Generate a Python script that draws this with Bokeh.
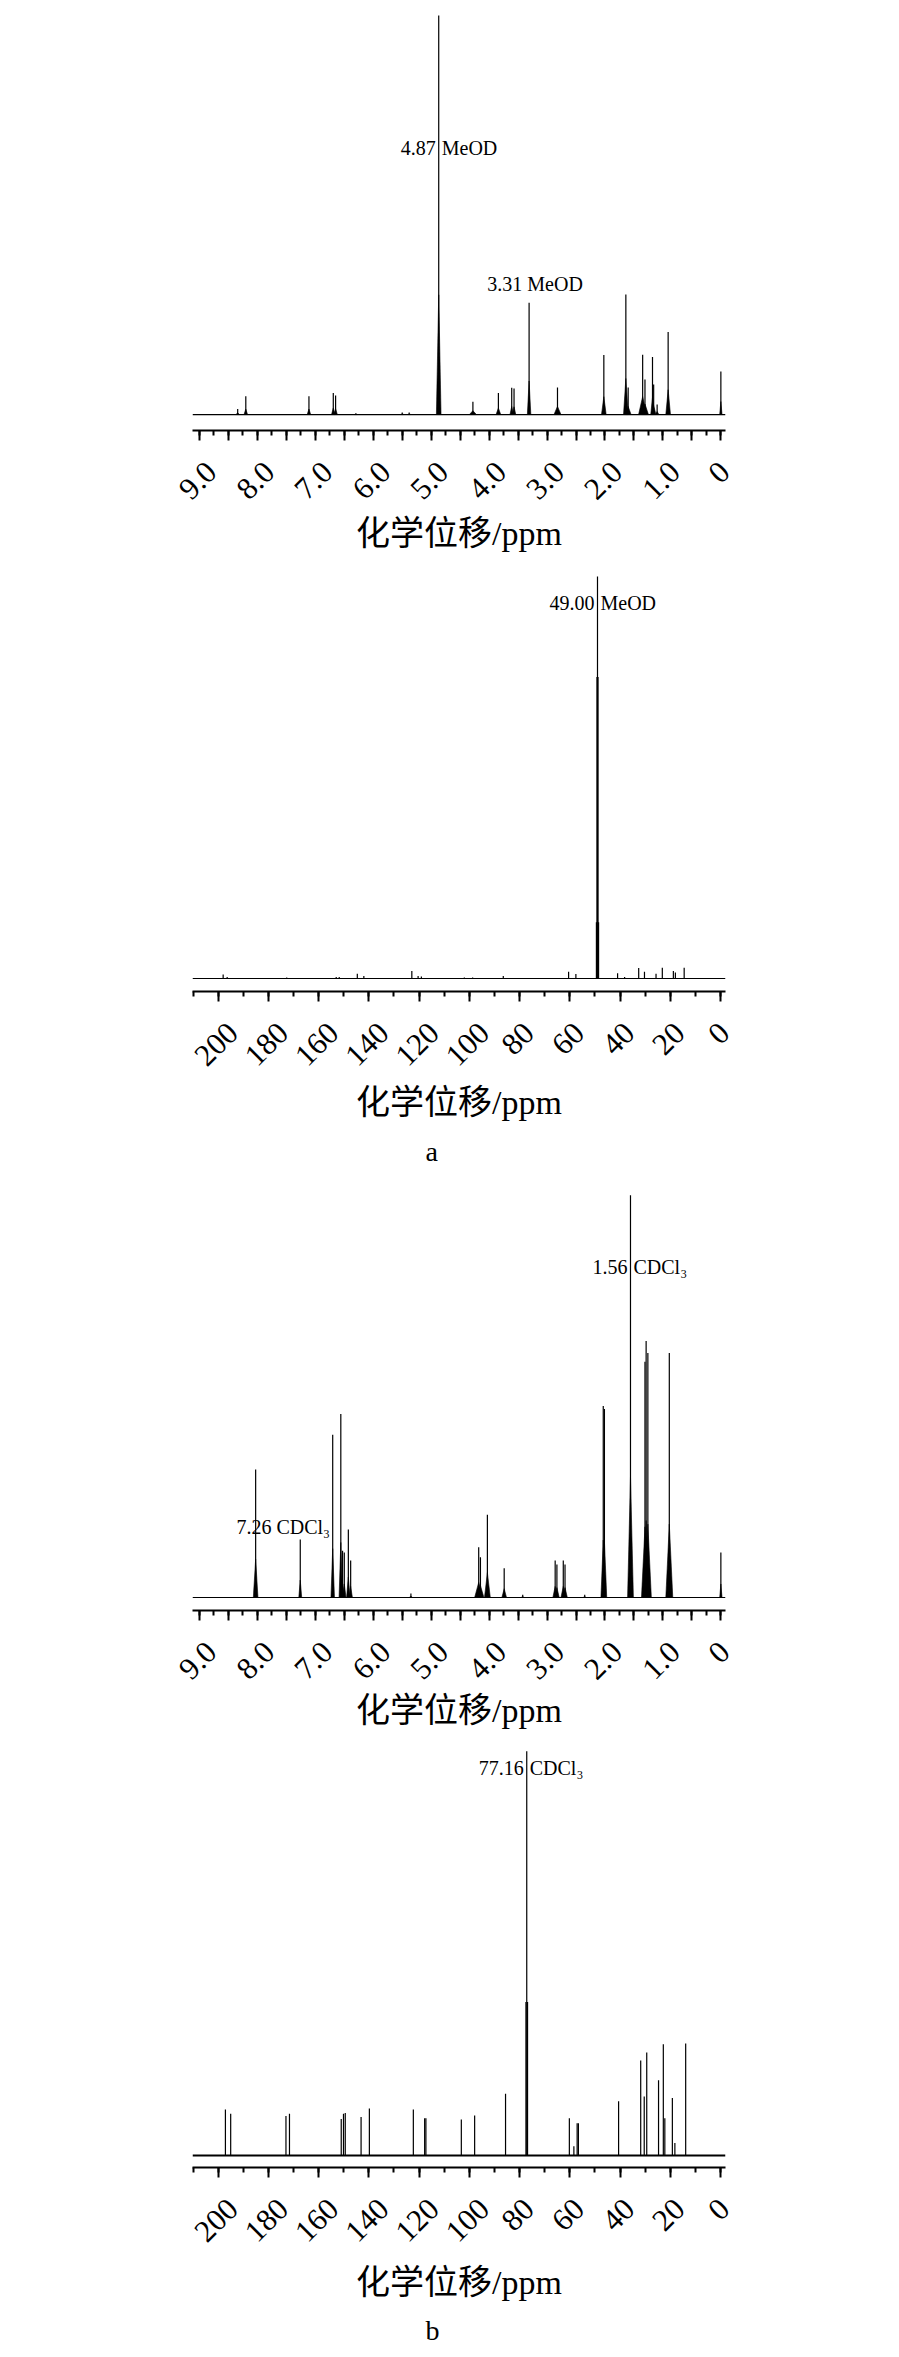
from bokeh.plotting import figure
from bokeh.models import Range1d, FixedTicker, Span, Title, LinearAxis
from bokeh.layouts import column
from bokeh.embed import file_html
from bokeh.resources import INLINE
from bokeh.core.properties import value

# ---------------- data ----------------
# panel 1: 1H NMR in MeOD (relative intensity, 4.87 = 100)
h1_meod_ppm = [8.34, 8.20, 7.11, 6.69, 6.65, 6.30, 5.50, 5.38, 4.87, 4.28, 3.84,
               3.61, 3.57, 3.31, 2.82, 2.02, 1.64, 1.60, 1.35, 1.31, 1.18, 1.16,
               1.10, 0.91, 0.00]
h1_meod_int = [1.4, 4.6, 4.6, 5.4, 4.8, 0.3, 0.5, 0.5, 100, 3.2, 5.4,
               6.7, 6.5, 28.0, 6.8, 14.9, 30.1, 6.8, 15.0, 8.8, 14.4, 7.5,
               2.5, 20.7, 10.8]
h1_meod_hw = [0.03, 0.03, 0.03, 0.03, 0.03, 0.02, 0.03, 0.03, 0.04, 0.06, 0.04,
              0.03, 0.03, 0.03, 0.06, 0.04, 0.04, 0.05, 0.07, 0.06, 0.03, 0.04,
              0.03, 0.04, 0.02]

# panel 2: 13C NMR in MeOD (49.00 = 100)
c13_meod_ppm = [198.0, 196.4, 172.7, 153.0, 151.8, 144.6, 142.0, 122.9, 120.4,
                119.1, 102.0, 98.7, 86.5, 60.5, 57.6, 49.43, 49.21, 49.00, 48.79,
                48.57, 41.0, 38.2, 32.6, 30.3, 25.7, 23.2, 18.8, 18.0, 14.5]
c13_meod_int = [1.0, 0.4, 0.25, 0.4, 0.4, 1.2, 0.6, 1.9, 0.6,
                0.5, 0.25, 0.25, 0.6, 1.7, 1.1, 14, 75, 100, 75,
                14, 1.3, 0.4, 2.6, 1.7, 1.2, 2.7, 1.9, 1.5, 2.7]

# panel 3: 1H NMR in CDCl3 (1.56 = 100)
h1_cdcl3_ppm = [8.03, 7.26, 6.70, 6.56, 6.53, 6.50, 6.43, 6.39, 5.35, 4.18, 4.15,
                4.03, 3.74, 3.42, 2.86, 2.83, 2.72, 2.69, 2.35, 2.03, 2.01, 1.56,
                1.31, 1.29, 1.26, 0.89, 0.00]
h1_cdcl3_int = [31.8, 14.4, 40.5, 45.6, 11.6, 11.2, 16.9, 9.2, 1.0, 12.5, 10.0,
                20.6, 7.3, 0.7, 9.2, 8.2, 9.2, 8.2, 0.7, 47.6, 46.9, 100,
                58.6, 63.8, 60.8, 60.8, 11.2]
h1_cdcl3_hw = [0.04, 0.025, 0.03, 0.03, 0.03, 0.03, 0.03, 0.03, 0.03, 0.07, 0.06,
               0.05, 0.04, 0.03, 0.04, 0.04, 0.04, 0.04, 0.03, 0.04, 0.04, 0.05,
               0.06, 0.06, 0.06, 0.06, 0.02]

# panel 4: 13C NMR in CDCl3 (77.16 = 100)
c13_cdcl3_ppm = [197.1, 195.0, 173.0, 171.6, 151.0, 150.1, 149.4, 143.1, 139.8,
                 122.3, 117.8, 117.3, 103.2, 97.9, 85.6, 77.48, 77.16, 76.84,
                 60.2, 58.4, 57.1, 56.6, 40.6, 31.8, 30.4, 29.4, 24.7, 22.8,
                 22.2, 19.2, 18.2, 13.9]
c13_cdcl3_int = [11.4, 10.3, 9.8, 10.3, 9.0, 10.3, 10.5, 9.5, 11.6,
                 11.4, 9.2, 9.2, 8.9, 9.9, 15.3, 38, 100, 38,
                 9.2, 2.3, 8.0, 8.0, 13.4, 23.5, 14.6, 25.5, 18.6, 27.5,
                 9.2, 14.2, 3.1, 27.7]

# axis ticks
h1_tick_values = [9, 8, 7, 6, 5, 4, 3, 2, 1, 0]
h1_tick_labels = ["9.0", "8.0", "7.0", "6.0", "5.0", "4.0", "3.0", "2.0", "1.0", "0"]
c13_tick_values = [200, 180, 160, 140, 120, 100, 80, 60, 40, 20, 0]
c13_tick_labels = ["200", "180", "160", "140", "120", "100", "80", "60", "40", "20", "0"]

x_title = "化学位移/ppm"
solvent_labels = {"meod": "MeOD", "cdcl3": "CDCl₃"}

# ---------------- styling ----------------
LAT = "Liberation Serif"
CJK = "Liberation Serif, Noto Sans CJK SC"
PAGE_W = 899
TICK_FS = 31
BASE_FRAC = 0.3   # height of the drawn peak foot, as fraction of the peak


def label_shift_px(text, size=TICK_FS):
    # a 45-degree, right-anchored label is (nearly) centred on its tick when shifted by 0.354*width
    width = sum(0.25 * size if ch == "." else 0.5 * size for ch in text)
    return 0.3536 * width - 2


def base_fig(height, top, bottom, left, fwidth, xr, yr, base_lw=1.2):
    p = figure(width=PAGE_W, height=height,
               x_range=Range1d(*xr), y_range=Range1d(*yr),
               output_backend="svg", toolbar_location=None,
               min_border_top=top, min_border_bottom=bottom,
               min_border_left=left, min_border_right=PAGE_W - left - fwidth)
    p.yaxis.visible = False
    p.xgrid.visible = False
    p.ygrid.visible = False
    p.outline_line_color = None
    p.background_fill_color = "white"
    p.border_fill_color = "white"
    ax = p.xaxis[0]
    ax.axis_line_width = 2
    ax.axis_line_color = "black"
    ax.major_tick_out = 10
    ax.major_tick_in = 0
    ax.minor_tick_out = 5
    ax.minor_tick_in = 0
    ax.major_tick_line_width = 2
    ax.minor_tick_line_width = 2
    ax.major_label_text_font_size = "0px"
    ax.major_label_standoff = 0
    p.add_layout(Span(location=0, dimension="width", line_color="black", line_width=base_lw))
    return p


def setup_axes(p, majors, minors, tick_values, tick_labels, px_per_unit, standoff, al_standoff):
    ax = p.xaxis[0]
    ax.ticker = FixedTicker(ticks=majors, minor_ticks=minors)
    ax.major_label_overrides = {v: "" for v in majors}
    shifted = [round(v - label_shift_px(t) / px_per_unit, 6) for v, t in zip(tick_values, tick_labels)]
    lab = LinearAxis(ticker=FixedTicker(ticks=shifted, minor_ticks=[]),
                     major_label_overrides={s: t for s, t in zip(shifted, tick_labels)})
    lab.axis_line_color = None
    lab.major_tick_line_color = None
    lab.minor_tick_line_color = None
    lab.major_tick_out = 0
    lab.major_tick_in = 0
    lab.minor_tick_out = 0
    lab.minor_tick_in = 0
    lab.major_label_orientation = 0.785398
    lab.major_label_text_font = LAT
    lab.major_label_text_font_size = f"{TICK_FS}px"
    lab.major_label_text_color = "black"
    lab.major_label_standoff = standoff
    lab.axis_label = x_title
    lab.axis_label_text_font = CJK
    lab.axis_label_text_font_size = "34px"
    lab.axis_label_text_font_style = "normal"
    lab.axis_label_text_color = "black"
    lab.axis_label_standoff = al_standoff
    p.add_layout(lab, "below")


def h1_axes(p, standoff, al_standoff):
    setup_axes(p, [i * 0.5 for i in range(19)], [i * 0.25 for i in range(37)],
               h1_tick_values, h1_tick_labels, 533 / 9.2, standoff, al_standoff)


def c13_axes(p, standoff, al_standoff):
    setup_axes(p, [i * 20 for i in range(11)], [i * 10 for i in range(22)],
               c13_tick_values, c13_tick_labels, 537 / 212.15, standoff, al_standoff)


def draw_h1(p, ppm, inten, hw):
    p.segment(x0=ppm, y0=[0] * len(ppm), x1=ppm, y1=inten,
              line_color="black", line_width=1.2)
    xs = [[c + w, c, c - w] for c, w in zip(ppm, hw)]
    ys = [[0, h * BASE_FRAC, 0] for h in inten]
    p.patches(xs, ys, fill_color="black", line_color="black", line_width=0.6)


def draw_c13(p, ppm, inten):
    p.segment(x0=ppm, y0=[0] * len(ppm), x1=ppm, y1=inten,
              line_color="black", line_width=1.2)


def txt(p, x, y, s, align, xoff):
    p.text(x=[x], y=[y], text=[s], text_align=align, text_baseline="middle",
           x_offset=xoff, text_font=value(LAT), text_font_size="20px", text_color="black")


def split_label(p, x, y, num, solvent):
    txt(p, x, y, num, "right", -3)
    txt(p, x, y, solvent, "left", 3)


# ---- panel 1 ----
p1 = base_fig(560, 12, 130, 192, 533, (9.12, -0.08), (-4.0, 100.75))
h1_axes(p1, 26, 3)
draw_h1(p1, h1_meod_ppm, h1_meod_int, h1_meod_hw)
split_label(p1, 4.87, 66.9, "4.87", solvent_labels["meod"])
txt(p1, 3.31, 32.8, "3.31 " + solvent_labels["meod"], "center", 6)

# ---- panel 2 ----
p2 = base_fig(625, 10, 194, 188, 537, (210.2, -1.95), (-3.23, 101.5))
c13_axes(p2, 26, 6)
draw_c13(p2, c13_meod_ppm, c13_meod_int)
split_label(p2, 49.00, 93.3, "49.00", solvent_labels["meod"])
p2.add_layout(Title(text="a", align="left", offset=233, standoff=18, text_font=LAT,
                    text_font_size="28px", text_font_style="normal", text_color="black"), "below")

# ---- panel 3 ----
p3 = base_fig(555, 3, 130, 192, 533, (9.12, -0.08), (-3.23, 101.7))
h1_axes(p3, 26, 0)
draw_h1(p3, h1_cdcl3_ppm, h1_cdcl3_int, h1_cdcl3_hw)
split_label(p3, 1.56, 82.2, "1.56", solvent_labels["cdcl3"])
txt(p3, 7.26, 17.5, "7.26 " + solvent_labels["cdcl3"], "center", -17)

# ---- panel 4 ----
p4 = base_fig(617, 6, 190, 188, 537, (210.2, -1.95), (-2.97, 101.2), base_lw=2.2)
c13_axes(p4, 26, 10)
draw_c13(p4, c13_cdcl3_ppm, c13_cdcl3_int)
split_label(p4, 77.16, 96.0, "77.16", solvent_labels["cdcl3"])
p4.add_layout(Title(text="b", align="left", offset=233, standoff=16, text_font=LAT,
                    text_font_size="28px", text_font_style="normal", text_color="black"), "below")

layout = column(p1, p2, p3, p4, spacing=0)
open("out.html", "w").write(file_html(layout, INLINE))
